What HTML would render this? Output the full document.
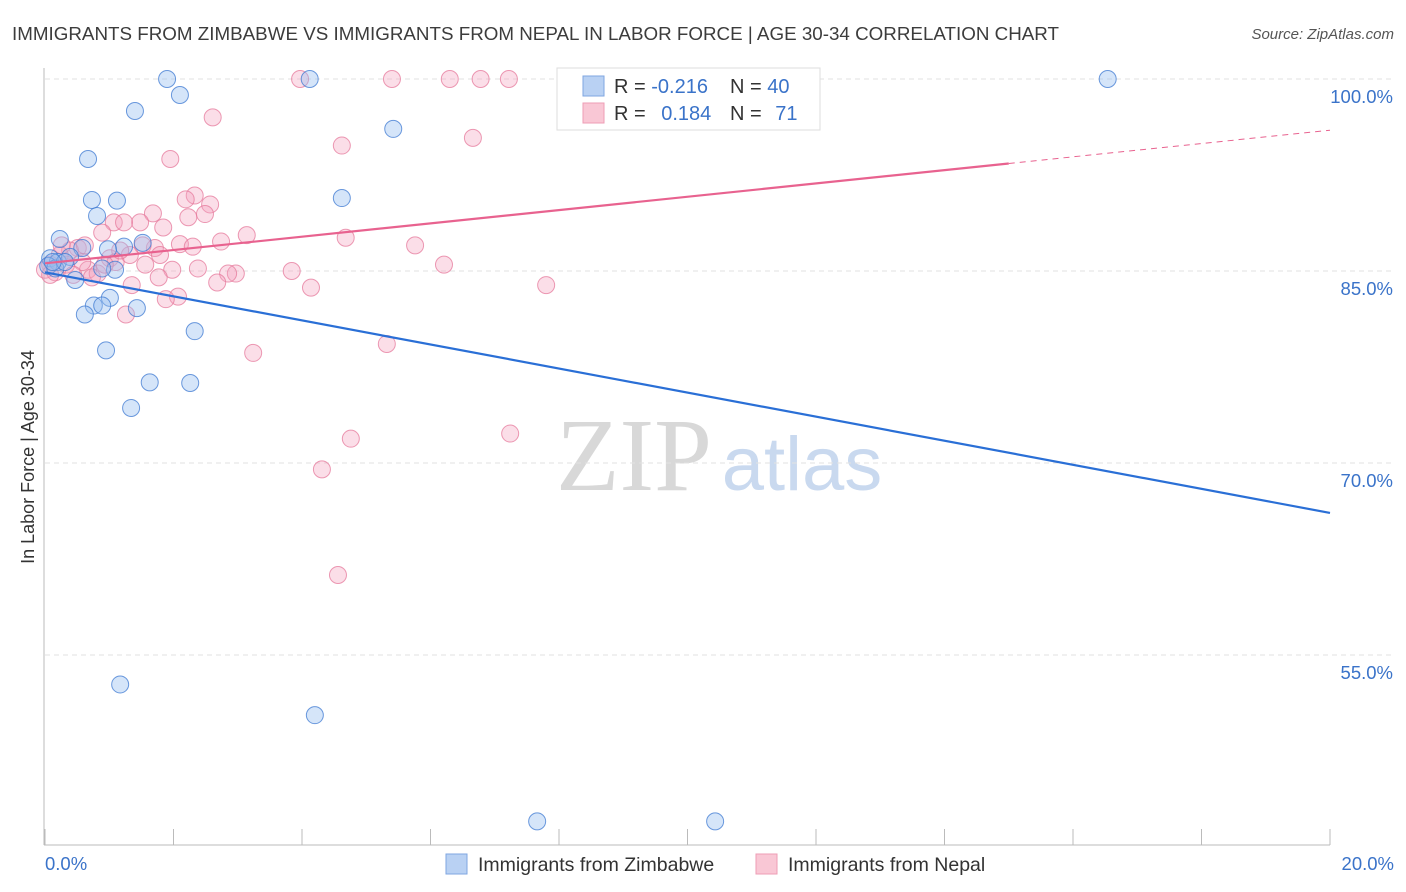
<!DOCTYPE html>
<html><head><meta charset="utf-8"><style>
body{margin:0;background:#fff;font-family:"Liberation Sans",sans-serif;}
#wrap{position:relative;width:1406px;height:892px;overflow:hidden;}
</style></head><body>
<div id="wrap">
<svg id="svg" width="1406" height="892">
<text x="12" y="40" font-size="18.5" textLength="1047" lengthAdjust="spacingAndGlyphs" fill="#3c3c3c">IMMIGRANTS FROM ZIMBABWE VS IMMIGRANTS FROM NEPAL IN LABOR FORCE | AGE 30-34 CORRELATION CHART</text>
<text x="1394" y="39" font-size="15" fill="#555" font-style="italic" text-anchor="end">Source: ZipAtlas.com</text>
<text x="634" y="490" font-size="104" fill="#d8d8d8" font-family="Liberation Serif,serif" text-anchor="middle">ZIP</text>
<text x="802" y="490" font-size="76" fill="#c9d9ef" text-anchor="middle">atlas</text>
<text transform="translate(34,457) rotate(-90)" font-size="18" fill="#333" text-anchor="middle">In Labor Force | Age 30-34</text>
<g id="grid"></g><g id="marks"></g>
<g>
<rect x="557" y="68" width="263" height="62" fill="#fff" stroke="#ddd"/>
<rect x="583" y="76" width="21" height="20" fill="#b9d1f3" stroke="#7fa6e0"/>
<rect x="583" y="103" width="21" height="20" fill="#f9c7d5" stroke="#ee9db5"/>
<text x="614" y="93" font-size="20" fill="#333">R = <tspan fill="#3a73c9">-0.216</tspan></text>
<text x="730" y="93" font-size="20" fill="#333">N = <tspan fill="#3a73c9">40</tspan></text>
<text x="614" y="120" font-size="20" fill="#333">R = <tspan fill="#3a73c9" dx="10">0.184</tspan></text>
<text x="730" y="120" font-size="20" fill="#333">N = <tspan fill="#3a73c9" dx="8">71</tspan></text>
</g>
<g>
<rect x="446" y="854" width="21" height="20" fill="#b9d1f3" stroke="#7fa6e0"/>
<text x="478" y="871" font-size="19.5" fill="#333">Immigrants from Zimbabwe</text>
<rect x="756" y="854" width="21" height="20" fill="#f9c7d5" stroke="#ee9db5"/>
<text x="788" y="871" font-size="19.5" fill="#333">Immigrants from Nepal</text>
</g>
</svg></div>
<script>
const blueX=[1.90,4.12,16.54,2.10,1.40,5.42,0.67,4.62,0.73,1.12,0.81,0.23,1.23,0.58,1.52,0.98,0.08,0.20,0.39,1.09,0.47,1.01,0.76,0.89,0.62,1.43,2.33,0.95,1.63,2.26,1.34,1.17,4.20,7.66,10.43,0.05,0.16,0.31,0.12,0.89];
const blueY=[100,100,100,98.75,97.5,96.1,93.75,90.7,90.55,90.5,89.3,87.5,86.9,86.8,87.2,86.7,86.0,85.7,86.1,85.1,84.3,82.9,82.3,82.3,81.6,82.1,80.3,78.8,76.3,76.25,74.3,52.7,50.3,42.0,42.0,85.4,85.2,85.7,85.7,85.2];
const pinkX=[3.97,5.40,6.30,6.78,7.22,11.23,2.61,6.66,4.62,1.95,2.33,2.19,2.57,1.68,2.23,2.49,1.48,1.84,1.07,1.23,0.89,3.14,2.74,4.68,5.76,2.10,2.30,1.71,1.52,1.32,1.01,0.51,0.39,6.21,3.84,2.38,1.98,2.97,2.85,0.67,0.82,0.73,4.14,2.68,1.77,1.35,7.80,2.07,1.88,1.26,3.24,5.32,7.24,4.76,4.31,4.56,0.23,0.08,0.0,0.33,0.58,1.10,0.16,1.56,0.93,0.44,0.08,0.26,0.62,1.17,1.79];
const pinkY=[100,100,100,100,100,100,97.0,95.4,94.8,93.75,90.9,90.6,90.2,89.5,89.2,89.45,88.8,88.4,88.8,88.8,88.0,87.8,87.3,87.6,87.0,87.1,86.9,86.8,87.0,86.25,86.0,86.8,86.6,85.5,85.0,85.2,85.1,84.8,84.8,85.1,84.8,84.5,83.7,84.1,84.5,83.9,83.9,83.0,82.8,81.6,78.6,79.3,72.3,71.9,69.5,61.25,86.25,85.5,85.1,85.5,85.7,85.7,84.9,85.5,85.5,84.7,84.7,87.0,87.0,86.6,86.25];
const yTicks=[100,85,70,55];
const yTickLabels=["100.0%","85.0%","70.0%","55.0%"];
const blueTrend=[84.9,66.1];
const pinkTrend=[85.6,96.0];
const pinkSolidEnd=15.0;
const NS="http://www.w3.org/2000/svg";
const sx=v=>45+v/20*1285, sy=v=>79+(100-v)*12.8;
function mk(t,a,p){const e=document.createElementNS(NS,t);for(const k in a)e.setAttribute(k,a[k]);p.appendChild(e);return e;}
const grid=document.getElementById('grid'),marks=document.getElementById('marks');
mk('line',{x1:44,y1:68,x2:44,y2:845,stroke:'#bbb'},grid);
mk('line',{x1:44,y1:845,x2:1330,y2:845,stroke:'#bbb'},grid);
yTicks.forEach((t,i)=>{
 const l=mk('line',{x1:45,y1:sy(t),x2:1394,y2:sy(t),stroke:'#e2e2e2','stroke-dasharray':'5,4'},grid);
 
 
 const tx=mk('text',{x:1393,y:sy(t)+24,'font-size':18.5,fill:'#3a73c9','text-anchor':'end'},grid);tx.textContent=yTickLabels[i];
 
 
});
for(let i=0;i<=10;i++){const x=sx(i*2);const l=mk('line',{x1:x,y1:829,x2:x,y2:845,stroke:'#bbb'},grid);
 
 }
const xl=mk('text',{x:45,y:870,'font-size':18.5,fill:'#3a73c9'},grid);xl.textContent='0.0%';


const xr=mk('text',{x:1394,y:870,'font-size':18.5,fill:'#3a73c9','text-anchor':'end'},grid);xr.textContent='20.0%';


pinkX.forEach((x,i)=>{const c=mk('circle',{cx:sx(x),cy:sy(pinkY[i]),r:8.5,fill:'rgba(244,160,188,0.35)',stroke:'rgba(230,120,155,0.75)','stroke-width':1},marks);
 
 });
blueX.forEach((x,i)=>{const c=mk('circle',{cx:sx(x),cy:sy(blueY[i]),r:8.5,fill:'rgba(150,190,240,0.4)',stroke:'rgba(60,120,210,0.75)','stroke-width':1},marks);
 
 });
const bl=mk('line',{x1:sx(0),y1:sy(blueTrend[0]),x2:sx(20),y2:sy(blueTrend[1]),stroke:'#2a6fd6','stroke-width':2.2},marks);


const pe=pinkTrend[0]+(pinkTrend[1]-pinkTrend[0])*pinkSolidEnd/20;
const pl=mk('line',{x1:sx(0),y1:sy(pinkTrend[0]),x2:sx(pinkSolidEnd),y2:sy(pe),stroke:'#e8628f','stroke-width':2.2},marks);


const pd=mk('line',{x1:sx(pinkSolidEnd),y1:sy(pe),x2:sx(20),y2:sy(pinkTrend[1]),stroke:'#e8628f','stroke-width':1,'stroke-dasharray':'6,5'},marks);


</script>
</body></html>
